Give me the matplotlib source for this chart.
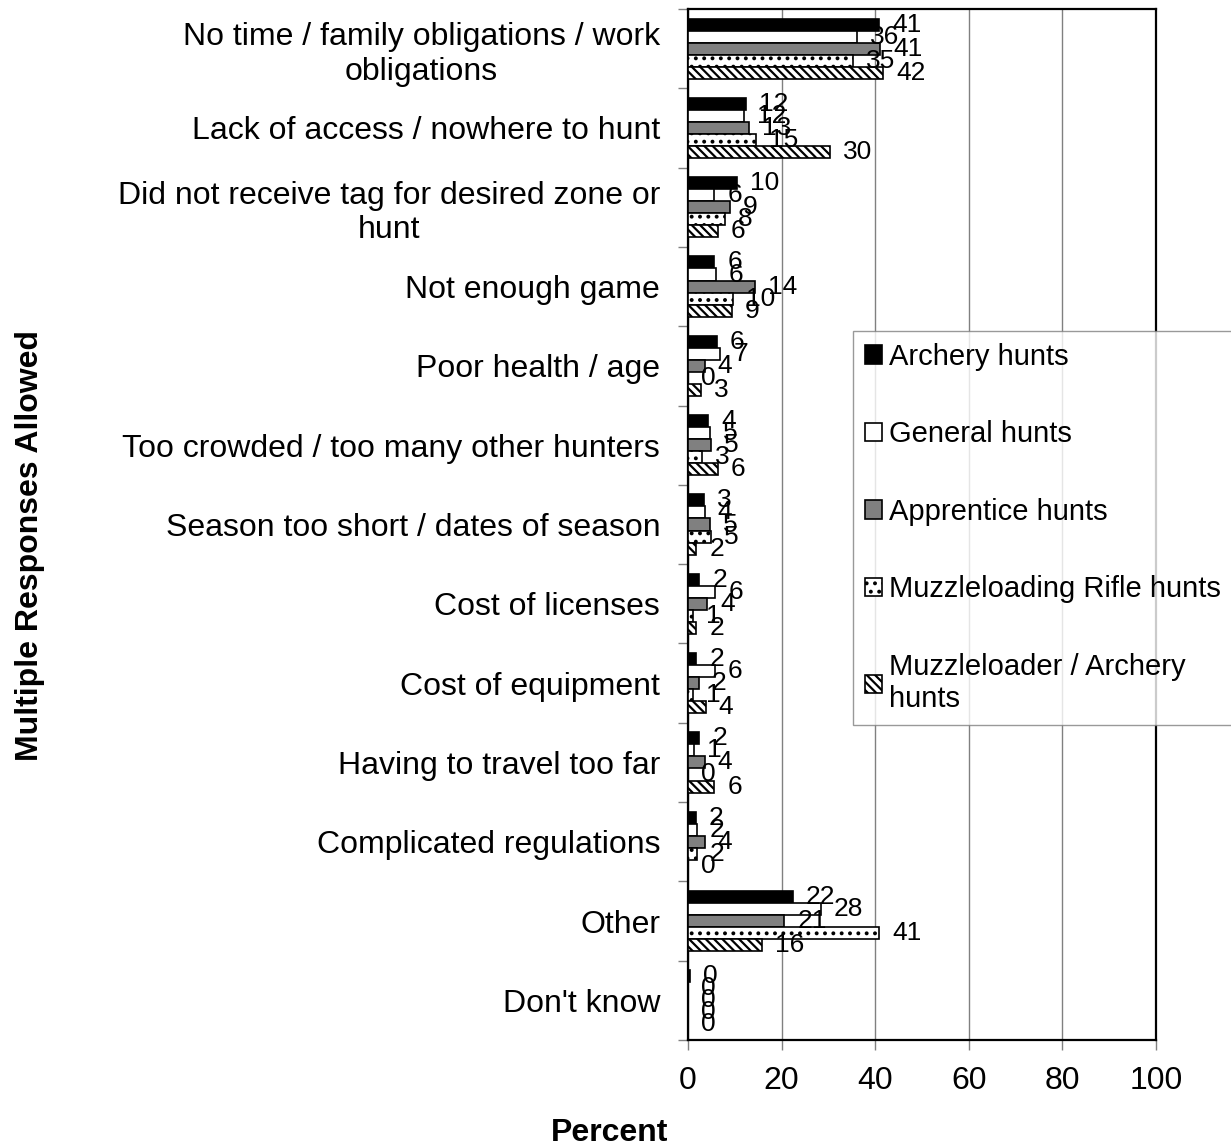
import matplotlib
matplotlib.use("Agg")
import matplotlib.pyplot as plt
import numpy as np
from matplotlib.patches import Patch

plt.rcParams['font.family'] = ['Liberation Sans', 'DejaVu Sans']
plt.rcParams['hatch.linewidth'] = 1.6

categories = [
    "No time / family obligations / work\nobligations",
    "Lack of access / nowhere to hunt",
    "Did not receive tag for desired zone or\nhunt",
    "Not enough game",
    "Poor health / age",
    "Too crowded / too many other hunters",
    "Season too short / dates of season",
    "Cost of licenses",
    "Cost of equipment",
    "Having to travel too far",
    "Complicated regulations",
    "Other",
    "Don't know",
]

series_names = ["Archery hunts", "General hunts", "Apprentice hunts",
                "Muzzleloading Rifle hunts", "Muzzleloader / Archery\nhunts"]

archery = [40.8, 12.4, 10.4, 5.6, 6.2, 4.3, 3.4, 2.4, 1.8, 2.4, 1.7, 22.4, 0.4]
general = [36.1, 12.0, 5.6, 6.0, 6.9, 4.7, 3.6, 5.8, 5.7, 1.2, 1.9, 28.4, 0.0]
apprentice = [41.0, 13.0, 8.9, 14.4, 3.6, 4.9, 4.6, 4.1, 2.3, 3.6, 3.6, 20.6, 0.0]
muzz_rifle = [35.3, 14.6, 7.8, 9.7, 0.0, 3.0, 4.9, 1.0, 1.0, 0.0, 1.9, 40.8, 0.0]
muzz_arch = [41.7, 30.4, 6.4, 9.4, 2.8, 6.4, 1.8, 1.8, 3.8, 5.6, 0.0, 15.8, 0.0]

xticks = [0, 20, 40, 60, 80, 100]

series = [archery, general, apprentice, muzz_rifle, muzz_arch]
facecolors = ["black", "white", "#808080", "white", "white"]
hatches = [None, None, None, "..", "\\\\\\\\"]

W, H = 1231, 1148
fig = plt.figure(figsize=(W / 100, H / 100), dpi=100)
ax = fig.add_axes([688 / W, 1 - 1040 / H, (1156 - 688) / W, (1040 - 9) / H])

n = len(categories)
y = np.arange(n)
bh = 0.152
for j, (vals, fc, ht) in enumerate(zip(series, facecolors, hatches)):
    pos = y - 2 * bh + j * bh
    ax.barh(pos, vals, height=bh, color=fc, edgecolor="black", linewidth=1.2,
            hatch=ht, zorder=3)
    for p, v in zip(pos, vals):
        ax.annotate(f"{int(round(v))}", xy=(v, p), xytext=(13, 0),
                    textcoords="offset pixels", ha="left", va="center",
                    fontsize=19, zorder=5)

ax.set_xlim(0, 100)
ax.set_ylim(n - 0.5, -0.5)
ax.set_xticks(xticks)
ax.set_xticklabels([str(t) for t in xticks], fontsize=23)
ax.set_yticks(y)
ax.set_yticklabels(categories, fontsize=23, multialignment="center")
ax.set_yticks(np.arange(n + 1) - 0.5, minor=True)
ax.tick_params(axis="y", which="major", length=0, pad=20)
ax.tick_params(axis="y", which="minor", length=7, width=1, color="#808080")
ax.tick_params(axis="x", which="major", length=7, width=1, color="#808080", pad=12)

ax.xaxis.grid(True, color="#808080", linewidth=1, zorder=0)
ax.set_axisbelow(True)
for s in ax.spines.values():
    s.set_linewidth(1.6)
    s.set_color("black")

handles = [Patch(facecolor=fc, edgecolor="black", hatch=ht, linewidth=1.2)
           for fc, ht in zip(facecolors, hatches)]
leg = fig.legend(handles, series_names, loc="upper left",
                 bbox_to_anchor=(853 / W, 1 - 331 / H), fontsize=21,
                 frameon=True, fancybox=False, edgecolor="#808080",
                 handlelength=0.6, handleheight=0.6, handletextpad=0.25,
                 labelspacing=1.7, borderpad=0.4, borderaxespad=0)
leg.get_frame().set_linewidth(1)
leg.set_zorder(10)

fig.text(610 / W, 1 - 1133 / H, "Percent", fontsize=23, fontweight="bold",
         ha="center", va="center")
fig.text(30 / W, 1 - 546 / H, "Multiple Responses Allowed", fontsize=23,
         fontweight="bold", rotation=90, ha="center", va="center")

fig.savefig("out.png", dpi=100)
